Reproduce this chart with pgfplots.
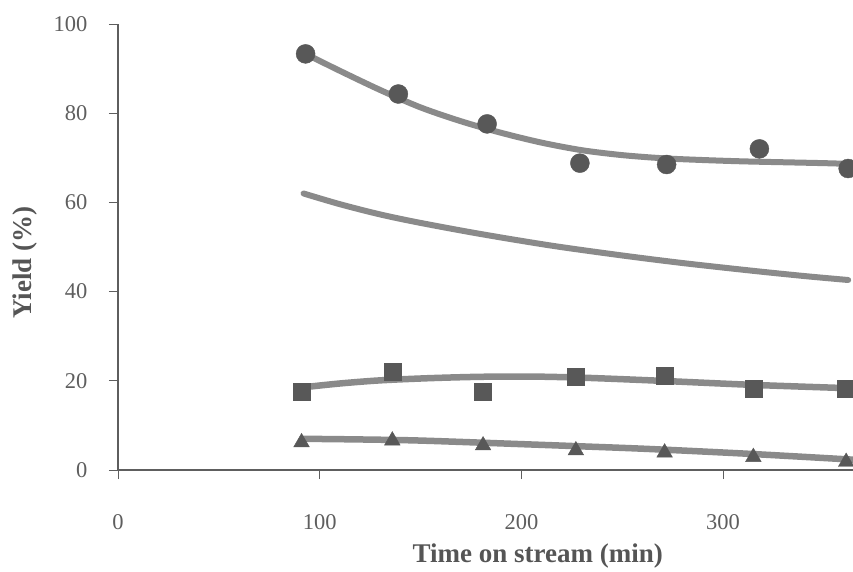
\documentclass[border=0pt]{standalone}
\usepackage{fontspec}
\setmainfont{Liberation Serif}
\usepackage{pgfplots}
\pgfplotsset{compat=1.18}
\definecolor{axisgray}{HTML}{5E5E5E}
\definecolor{linegray}{HTML}{8A8A8A}
\definecolor{markgray}{HTML}{585858}
\begin{document}
\begin{tikzpicture}
\begin{axis}[
  name=ax,
  scale only axis, width=735pt, height=446pt,
  xmin=0, xmax=364.4, ymin=0, ymax=100,
  axis lines=left,
  axis line style={-, draw=axisgray, line width=1.1pt},
  xtick={0,100,200,300}, ytick={0,20,40,60,80,100},
  tick align=outside,
  major tick length=9pt,
  tick style={draw=axisgray, line width=1pt},
  x tick style={line width=0.6pt},
  xticklabel style={anchor=base, yshift=-50pt, text=axisgray},
  yticklabel style={text=axisgray, xshift=-18pt},
  ticklabel style={font=\fontsize{22.5}{26}\selectfont},
  /pgf/number format/assume math mode=true,
  xlabel={Time on stream (min)},
  ylabel={Yield (\%)},
  every axis x label/.style={at={(axis description cs:0.571,-0.192)}, anchor=center, font=\fontsize{27}{30}\selectfont\bfseries, text=axisgray!90!black},
  every axis y label/.style={at={(axis description cs:-0.127,0.465)}, anchor=center, rotate=90, font=\fontsize{27}{30}\selectfont\bfseries, text=axisgray!90!black},
]
% markers
\addplot[only marks, mark=*, mark size=9.5pt, color=markgray] coordinates {
 (93,93.3) (139,84.3) (183,77.6) (229,68.8) (272,68.5) (318,72.0) (362,67.6)};
\addplot[only marks, mark=square*, mark size=8.5pt, color=markgray] coordinates {
 (91,17.5) (136,22.0) (181,17.6) (227,20.9) (271,21.2) (315,18.2) (361,18.2)};
\addplot[only marks, mark=triangle*, mark size=9pt, color=markgray] coordinates {
 (91,6.2) (136,6.6) (181,5.5) (227,4.4) (271,3.9) (315,2.9) (361,1.8)};
% trend lines
\addplot[linegray, line width=6pt, smooth, line cap=round] coordinates {
 (93,93.3) (110,89.5) (130,85.2) (150,81.3) (170,78.2) (190,75.6) (210,73.4) (230,71.7) (250,70.6) (270,69.9) (290,69.5) (310,69.2) (330,69.0) (350,68.8) (365,68.6)};
\addplot[linegray, line width=6pt, smooth, line cap=round] coordinates {
 (92,62.0) (110,59.6) (130,57.3) (150,55.4) (180,52.9) (215,50.3) (250,48.1) (280,46.4) (314,44.7) (340,43.5) (362,42.6)};
\addplot[linegray, line width=6.5pt, smooth] coordinates {
 (93,18.6) (110,19.4) (130,20.1) (155,20.6) (180,20.9) (205,20.95) (230,20.7) (264,20.1) (314,19.1) (365,18.3)};
\addplot[linegray, line width=6.5pt, smooth] coordinates {
 (91,7.0) (120,6.85) (150,6.6) (200,5.8) (230,5.3) (264,4.7) (314,3.6) (365,2.3)};
\draw[axisgray, line width=1.1pt] (axis cs:-6,0) -- (axis cs:0,0);
\draw[axisgray, line width=1.1pt] (axis cs:0,0) -- (axis cs:0,-2.3);
\end{axis}
\pgfresetboundingbox
\path[use as bounding box] ([xshift=-118pt,yshift=-101pt]ax.south west) rectangle ([xshift=735pt,yshift=470pt]ax.south west);
\end{tikzpicture}
\end{document}
